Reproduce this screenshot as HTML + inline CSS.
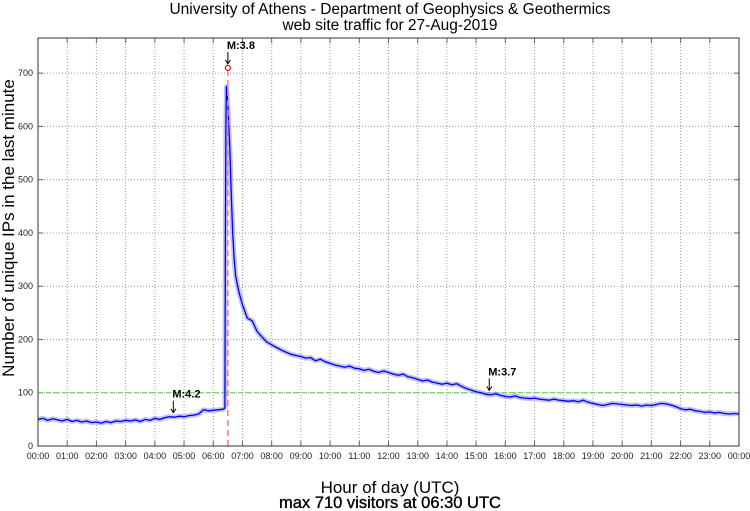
<!DOCTYPE html>
<html><head><meta charset="utf-8"><style>
html,body{margin:0;padding:0;background:#fff;}
svg{display:block;font-family:"Liberation Sans",sans-serif;}
</style></head><body>
<svg id="chart" width="750" height="511" viewBox="0 0 750 511">
<text x="390" y="14" text-anchor="middle" font-size="15.5">University of Athens - Department of Geophysics &amp; Geothermics</text>
<text x="390" y="30" text-anchor="middle" font-size="15.5">web site traffic for 27-Aug-2019</text>
<text transform="translate(14,228) rotate(-90)" text-anchor="middle" font-size="17">Number of unique IPs in the last minute</text>
<text x="390" y="493" text-anchor="middle" font-size="17">Hour of day (UTC)</text>
<text x="390" y="508" text-anchor="middle" font-size="16.5" stroke="#000" stroke-width="0.35">max 710 visitors at 06:30 UTC</text>
<g id="grid"></g>
<g id="marks"></g>
<rect x="38" y="38" width="701" height="408" fill="none" stroke="#333" stroke-width="1"/>
</svg>
<script>
const earlyStart = 0, stepMin = 10;
const earlyValues = [50,52,48,51,49,47,50,46,48,45,47,44,45,43,46,44,47,46,48,47,49,46,50,48,52,50,53,55,54,56,55,57,58,60,68,66,67,68,69];
const spikeTimes = [382,384,385,386,387,388,390,392,394,396,398,400,403,406,410,414];
const spikeValues = [70,72,400,600,675,665,640,600,560,500,450,400,350,320,300,285];
const lateStart = 420;
const lateValues = [265,240,235,215,205,195,190,185,180,176,172,170,168,165,166,160,163,158,155,152,150,148,150,146,145,142,144,140,138,141,138,135,133,135,130,128,125,122,124,120,118,116,118,115,117,112,108,105,102,100,97,96,98,95,93,92,94,91,90,89,90,88,87,86,88,86,85,84,85,83,86,82,80,78,76,78,80,79,78,77,76,77,75,77,76,78,80,79,77,74,70,68,69,66,65,63,64,62,63,61,60,61,60];
const yTicks = [0,100,200,300,400,500,600,700];
const xTickHours = [0,1,2,3,4,5,6,7,8,9,10,11,12,13,14,15,16,17,18,19,20,21,22,23,24];
const maxTime = 390, maxValue = 710, threshold = 100;
const events = [{label:"M:4.2",t:278,v:55},{label:"M:3.8",t:390,v:710},{label:"M:3.7",t:927,v:97}];

const X0=38,X1=739,Y0=446,Y1=38,YMAX=766;
const xs = m => X0 + (m/1440)*(X1-X0);
const ys = v => Y0 - (v/YMAX)*(Y0-Y1);
const NS="http://www.w3.org/2000/svg";
const grid=document.getElementById('grid'), marks=document.getElementById('marks');
function mk(tag,attrs,parent){const e=document.createElementNS(NS,tag);for(const k in attrs)e.setAttribute(k,attrs[k]);parent.appendChild(e);return e;}

yTicks.forEach(v=>{
  const y=ys(v);
  if(v>0){const g=mk('line',{x1:X0,x2:X1,y1:y,y2:y,stroke:'#999','stroke-width':1,'stroke-dasharray':'1,2'},grid);
  
  }
  mk('line',{x1:X0,x2:X0+5,y1:y,y2:y,stroke:'#666'},grid);
  mk('line',{x1:X1-5,x2:X1,y1:y,y2:y,stroke:'#666'},grid);
  const t=mk('text',{x:X0-5,y:y+3,'text-anchor':'end','font-size':9,fill:'#222'},grid);
  t.textContent=v;
  
  
});
xTickHours.forEach(h=>{
  const x=xs(h*60);
  if(h>0&&h<24){const g=mk('line',{x1:x,x2:x,y1:Y1,y2:Y0,stroke:'#999','stroke-width':1,'stroke-dasharray':'1,2'},grid);
  
  }
  mk('line',{x1:x,x2:x,y1:Y0-5,y2:Y0,stroke:'#666'},grid);
  mk('line',{x1:x,x2:x,y1:Y1,y2:Y1+5,stroke:'#666'},grid);
  const t=mk('text',{x:x,y:459,'text-anchor':'middle','font-size':9,fill:'#222'},grid);
  t.textContent=(h%24<10&&h!==24?'0':'')+(h===24?'00':h)+':00';
  
  
});

const thr=mk('line',{x1:X0,x2:X1,y1:ys(threshold),y2:ys(threshold),stroke:'#66dd55','stroke-width':1.2,'stroke-dasharray':'5,3'},marks);



const pts=[];
earlyValues.forEach((v,i)=>pts.push([earlyStart+i*stepMin,v]));
spikeTimes.forEach((t,i)=>pts.push([t,spikeValues[i]]));
lateValues.forEach((v,i)=>pts.push([lateStart+i*stepMin,v]));
const d=pts.map((p,i)=>(i?'L':'M')+xs(p[0]).toFixed(1)+','+ys(p[1]).toFixed(1)).join(' ');
const band=mk('path',{d:d,fill:'none',stroke:'#8f8fff','stroke-width':5,'stroke-linejoin':'round',opacity:0.55},marks);


const line=mk('path',{d:d,fill:'none',stroke:'#0000ee','stroke-width':1.3,'stroke-linejoin':'round'},marks);



const mx=mk('line',{x1:xs(maxTime),x2:xs(maxTime),y1:Y0,y2:ys(maxValue),stroke:'#ff7777','stroke-width':1.5,'stroke-dasharray':'6,4'},marks);


const mc=mk('circle',{cx:xs(maxTime),cy:ys(maxValue),r:2.5,fill:'none',stroke:'#e00','stroke-width':1.2},marks);



events.forEach(ev=>{
  const x=xs(ev.t), y=ys(ev.v)-4;
  const g=mk('g',{},marks);
  
  
  mk('line',{x1:x,x2:x,y1:y-12,y2:y,stroke:'#000','stroke-width':1},g);
  mk('path',{d:`M${x-2.5},${y-4} L${x},${y} L${x+2.5},${y-4}`,fill:'none',stroke:'#000','stroke-width':1},g);
  const t=mk('text',{x:x-1,y:y-15,'font-size':11,'font-weight':'bold'},g);
  t.textContent=ev.label;
});
</script>
</body></html>
